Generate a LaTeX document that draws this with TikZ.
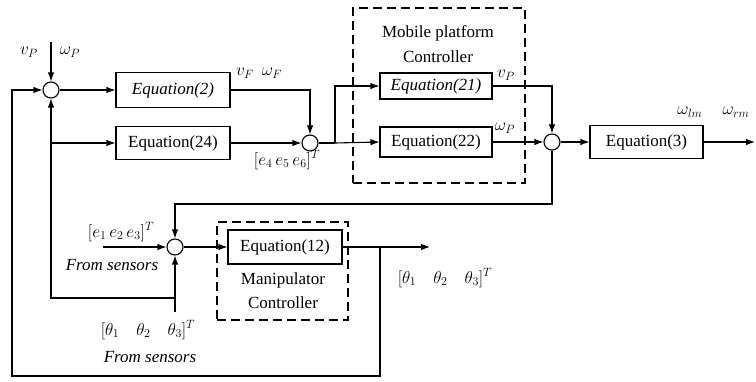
\documentclass[tikz,border=0pt]{standalone}
\usepackage{fontspec}
\setmainfont{Liberation Serif}
\usetikzlibrary{arrows.meta}
\begin{document}
\begin{tikzpicture}[x=1pt,y=-1pt, line width=1.1pt,
  >={Latex[length=9pt,width=6.5pt]},
  sumj/.style={circle,draw,minimum size=16pt,inner sep=0pt},
  blk/.style={draw,rectangle,inner sep=0pt,font=\fontsize{17}{20}\selectfont},
  lbl/.style={inner sep=0pt,font=\fontsize{17}{20}\selectfont},
  ctrl/.style={draw,dash pattern=on 9pt off 5pt,line width=1.3pt,inner sep=0pt}]
\useasboundingbox (0,0) rectangle (756,382);
% controller frames
\node[ctrl,minimum width=172pt,minimum height=175pt] (mpc) at (439,95.5) {};
\node[ctrl,minimum width=131pt,minimum height=98pt] (mc) at (282.5,271) {};
% summing junctions
\node[sumj] (s1) at (51,90) {};
\node[sumj] (s2) at (310,143) {};
\node[sumj] (s3) at (552,142) {};
\node[sumj] (s4) at (175,247) {};
% blocks
\node[blk,minimum width=114pt,minimum height=35pt] (e2) at (173,90) {\itshape Equation(2)};
\node[blk,minimum width=114pt,minimum height=33pt] (e24) at (173,143) {Equation(24)};
\node[blk,fill=white,minimum width=112pt,minimum height=26pt] (e21) at (436,86) {\itshape Equation(21)};
\node[blk,fill=white,minimum width=112pt,minimum height=30pt] (e22) at (436,142) {Equation(22)};
\node[blk,minimum width=113pt,minimum height=33pt] (e3) at (646.5,142) {Equation(3)};
\node[blk,fill=white,minimum width=114pt,minimum height=34pt] (e12) at (285,247) {Equation(12)};
% coordinates
\coordinate (vp0) at (51,42);
\coordinate (b12) at (380,247);
\coordinate (c2) at (12,376);
\coordinate (t0) at (175,312);
\coordinate (t1) at (175,298);
\coordinate (j24) at (51,143);
\coordinate (j2) at (335,143);
\coordinate (out3) at (755,142);
\coordinate (k) at (552,204);
\coordinate (in4) at (103,247);
\coordinate (out12) at (430,247);
% connectors
\draw[->] (vp0) -- (s1.north);
\draw[->] (s1.east) -- (e2.west);
\draw[->] (b12) |- (c2) |- (s1.west);
\draw[->] (t0) -- (s4.south);
\draw[->] (t1) -| (s1.south);
\draw[->] (j24) -- (e24.west);
\draw[->] (e2.east) -| (s2.north);
\draw[->] (e24.east) -- (s2.west);
\draw (s2.east) -- (j2);
\draw[->] (j2) |- (e21.west);
\draw[->] (j2) -- (e22.west);
\draw[->] (e21.east) -| (s3.north);
\draw[->] (e22.east) -- (s3.west);
\draw[->] (s3.east) -- (e3.west);
\draw[->] (e3.east) -- (out3);
\draw[->] (s3.south) -- (k) -| (s4.north);
\draw[->] (in4) -- (s4.west);
\draw[->] (s4.east) -- (e12.west);
\draw[->] (e12.east) -- (out12);
% labels
\node[lbl] (lvp) at (29,52) {$v_P$};
\node[lbl] (lwp) at (70,52) {$\omega_P$};
\node[lbl] (lvf) at (245,73) {$v_F$};
\node[lbl] (lwf) at (272,73) {$\omega_F$};
\node[lbl] (le456) at (287,160) {$[e_4\,e_5\,e_6]^T$};
\node[lbl] (lmp1) at (438,33) {Mobile platform};
\node[lbl] (lmp2) at (438,57) {Controller};
\node[lbl] (lvp2) at (506,75) {$v_P$};
\node[lbl] (lwp2) at (505,128) {$\omega_P$};
\node[lbl] (lwl) at (690,112) {$\omega_{lm}$};
\node[lbl] (lwr) at (736,112) {$\omega_{rm}$};
\node[lbl] (le123) at (121,232) {$[e_1\,e_2\,e_3]^T$};
\node[lbl] (lfs1) at (112,265) {\itshape From sensors};
\node[lbl] (lth1) at (148,330) {$[\theta_1\quad\theta_2\quad\theta_3]^T$};
\node[lbl] (lfs2) at (150,357) {\itshape From sensors};
\node[lbl] (lth2) at (445,278) {$[\theta_1\quad\theta_2\quad\theta_3]^T$};
\node[lbl] (lmc1) at (283,280) {Manipulator};
\node[lbl] (lmc2) at (283,303) {Controller};
\end{tikzpicture}
\end{document}
